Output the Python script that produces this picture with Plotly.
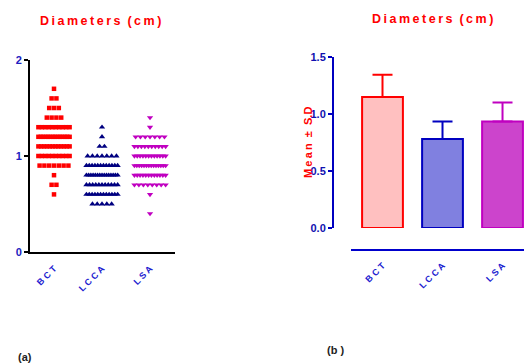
import plotly.graph_objects as go

W, H = 524, 364

# ---- data ----
categories = ["BCT", "LCCA", "LSA"]

bct_values = [1.7, 1.6, 1.5, 1.4, 1.3, 1.2, 1.1, 1.0, 0.9, 0.8, 0.7, 0.6]
bct_counts = [1, 2, 3, 4, 10, 14, 12, 10, 7, 1, 2, 1]

lcca_values = [1.3, 1.2, 1.1, 1.0, 0.9, 0.8, 0.7, 0.6, 0.5]
lcca_counts = [1, 1, 2, 7, 12, 15, 11, 12, 5]

lsa_values = [1.4, 1.3, 1.2, 1.1, 1.0, 0.9, 0.8, 0.7, 0.6, 0.4]
lsa_counts = [1, 1, 7, 10, 12, 14, 12, 8, 1, 1]

bar_means = [1.15, 0.78, 0.935]
bar_sd = [0.195, 0.155, 0.165]

y_ticks_a = [0, 1, 2]
y_ticks_b = [0.0, 0.5, 1.0, 1.5]

# ---- helpers (screen pixel -> paper fraction) ----
def px(x):
    return x / W

def py(y):
    return 1 - y / H

def spread(cat_index, values, counts, step=0.1, maxw=0.65):
    xs, ys = [], []
    for v, n in zip(values, counts):
        s = step if n <= 1 else min(step, maxw / (n - 1))
        for j in range(n):
            xs.append(cat_index + (j - (n - 1) / 2) * s)
            ys.append(v)
    return xs, ys

FONT = "Arial, Liberation Sans, sans-serif"
TS = "\u2009"
NB = "\u00a0"

def spaced(t, sep=TS):
    return sep.join(list(t))

fig = go.Figure()

# ---- panel (a): scatter ----
for i, (vals, cnts, sym, col, sz) in enumerate([
    (bct_values, bct_counts, "square", "#ff0000", 4.5),
    (lcca_values, lcca_counts, "triangle-up", "#000080", 5.5),
    (lsa_values, lsa_counts, "triangle-down", "#c000c0", 5.5),
]):
    xs, ys = spread(i, vals, cnts)
    fig.add_trace(go.Scatter(
        x=xs, y=ys, mode="markers", xaxis="x", yaxis="y",
        marker=dict(symbol=sym, color=col, size=sz, line=dict(width=0)),
        showlegend=False, hoverinfo="skip", cliponaxis=False))

# ---- panel (b): bars ----
fills = ["#ffc0c0", "#8080e0", "#cc44cc"]
edges = ["#ff0000", "#0000c0", "#c000c0"]
for i, cat in enumerate(categories):
    fig.add_trace(go.Bar(
        x=[i], y=[bar_means[i]], xaxis="x2", yaxis="y2", width=0.68,
        marker=dict(color=fills[i], line=dict(color=edges[i], width=2)),
        error_y=dict(type="data", symmetric=False, array=[bar_sd[i]],
                     arrayminus=[0], color=edges[i], thickness=2, width=10),
        showlegend=False, hoverinfo="skip", cliponaxis=False))

tickfont_x = dict(family=FONT, size=9, color="#2020d0", weight=700)

fig.update_layout(
    width=W, height=H, margin=dict(l=0, r=0, t=0, b=0, autoexpand=False),
    paper_bgcolor="white", plot_bgcolor="white",
    barmode="overlay", showlegend=False,
    xaxis=dict(domain=[px(30), px(175)], range=[-0.5, 2.52], anchor="y",
               showline=True, linecolor="black", linewidth=2,
               tickvals=[0, 1, 2], ticktext=[spaced(c, " ") for c in categories],
               ticks="outside", ticklen=6, tickcolor="rgba(0,0,0,0)",
               tickangle=-45, tickfont=tickfont_x, automargin=False,
               showgrid=False, zeroline=False),
    yaxis=dict(domain=[py(252), py(60)], range=[0, 2], anchor="x",
               showline=True, linecolor="black", linewidth=2,
               tickvals=y_ticks_a, ticks="outside", ticklen=4, tickwidth=2,
               tickcolor="black", automargin=False,
               tickfont=dict(family=FONT, size=11, color="#2020c0", weight=700),
               showgrid=False, zeroline=False),
    xaxis2=dict(domain=[px(351), 1], range=[-0.525, 2.358], anchor="free",
                position=py(250),
                showline=True, linecolor="#0000cc", linewidth=2,
                tickvals=[0, 1, 2], ticktext=[spaced(c, " ") for c in categories],
                ticks="outside", ticklen=6, tickcolor="rgba(0,0,0,0)",
                tickangle=-45, tickfont=tickfont_x, automargin=False,
                showgrid=False, zeroline=False),
    yaxis2=dict(domain=[py(228), py(57)], range=[0, 1.5], anchor="free",
                position=px(333),
                showline=True, linecolor="#0000c0", linewidth=2,
                tickvals=y_ticks_b, ticktext=[f"{v:.1f}" for v in y_ticks_b],
                ticks="outside", ticklen=4, tickwidth=2, tickcolor="#0000c0",
                automargin=False,
                tickfont=dict(family=FONT, size=11, color="#1010b0", weight=700),
                showgrid=False, zeroline=False),
)

title_font = dict(family=FONT, size=12.5, color="#ff0000", weight=700)
title_text = spaced("Diameters") + NB + NB + spaced("(cm)")
fig.add_annotation(x=px(100), y=py(21), xref="paper", yref="paper",
                   text=title_text, showarrow=False, font=title_font,
                   xanchor="center", yanchor="middle")
fig.add_annotation(x=px(432), y=py(19), xref="paper", yref="paper",
                   text=title_text, showarrow=False, font=title_font,
                   xanchor="center", yanchor="middle")
fig.add_annotation(x=px(308), y=py(143), xref="paper", yref="paper",
                   text=spaced("Mean") + NB + NB + "±" + NB + NB + "S.D",
                   textangle=-90, showarrow=False,
                   font=dict(family=FONT, size=11, color="#ff0000", weight=700),
                   xanchor="center", yanchor="middle")
fig.add_annotation(x=px(25), y=py(357), xref="paper", yref="paper",
                   text="(a)", showarrow=False,
                   font=dict(family=FONT, size=11, color="#222222", weight=700),
                   xanchor="center", yanchor="middle")
fig.add_annotation(x=px(335), y=py(350), xref="paper", yref="paper",
                   text="(b" + NB + ")", showarrow=False,
                   font=dict(family=FONT, size=11, color="#222222", weight=700),
                   xanchor="center", yanchor="middle")

fig.write_html(
    "out.html",
    config={"displayModeBar": False},
    post_script="document.body.style.margin='0';"
                "document.body.style.overflow='hidden';",
)
